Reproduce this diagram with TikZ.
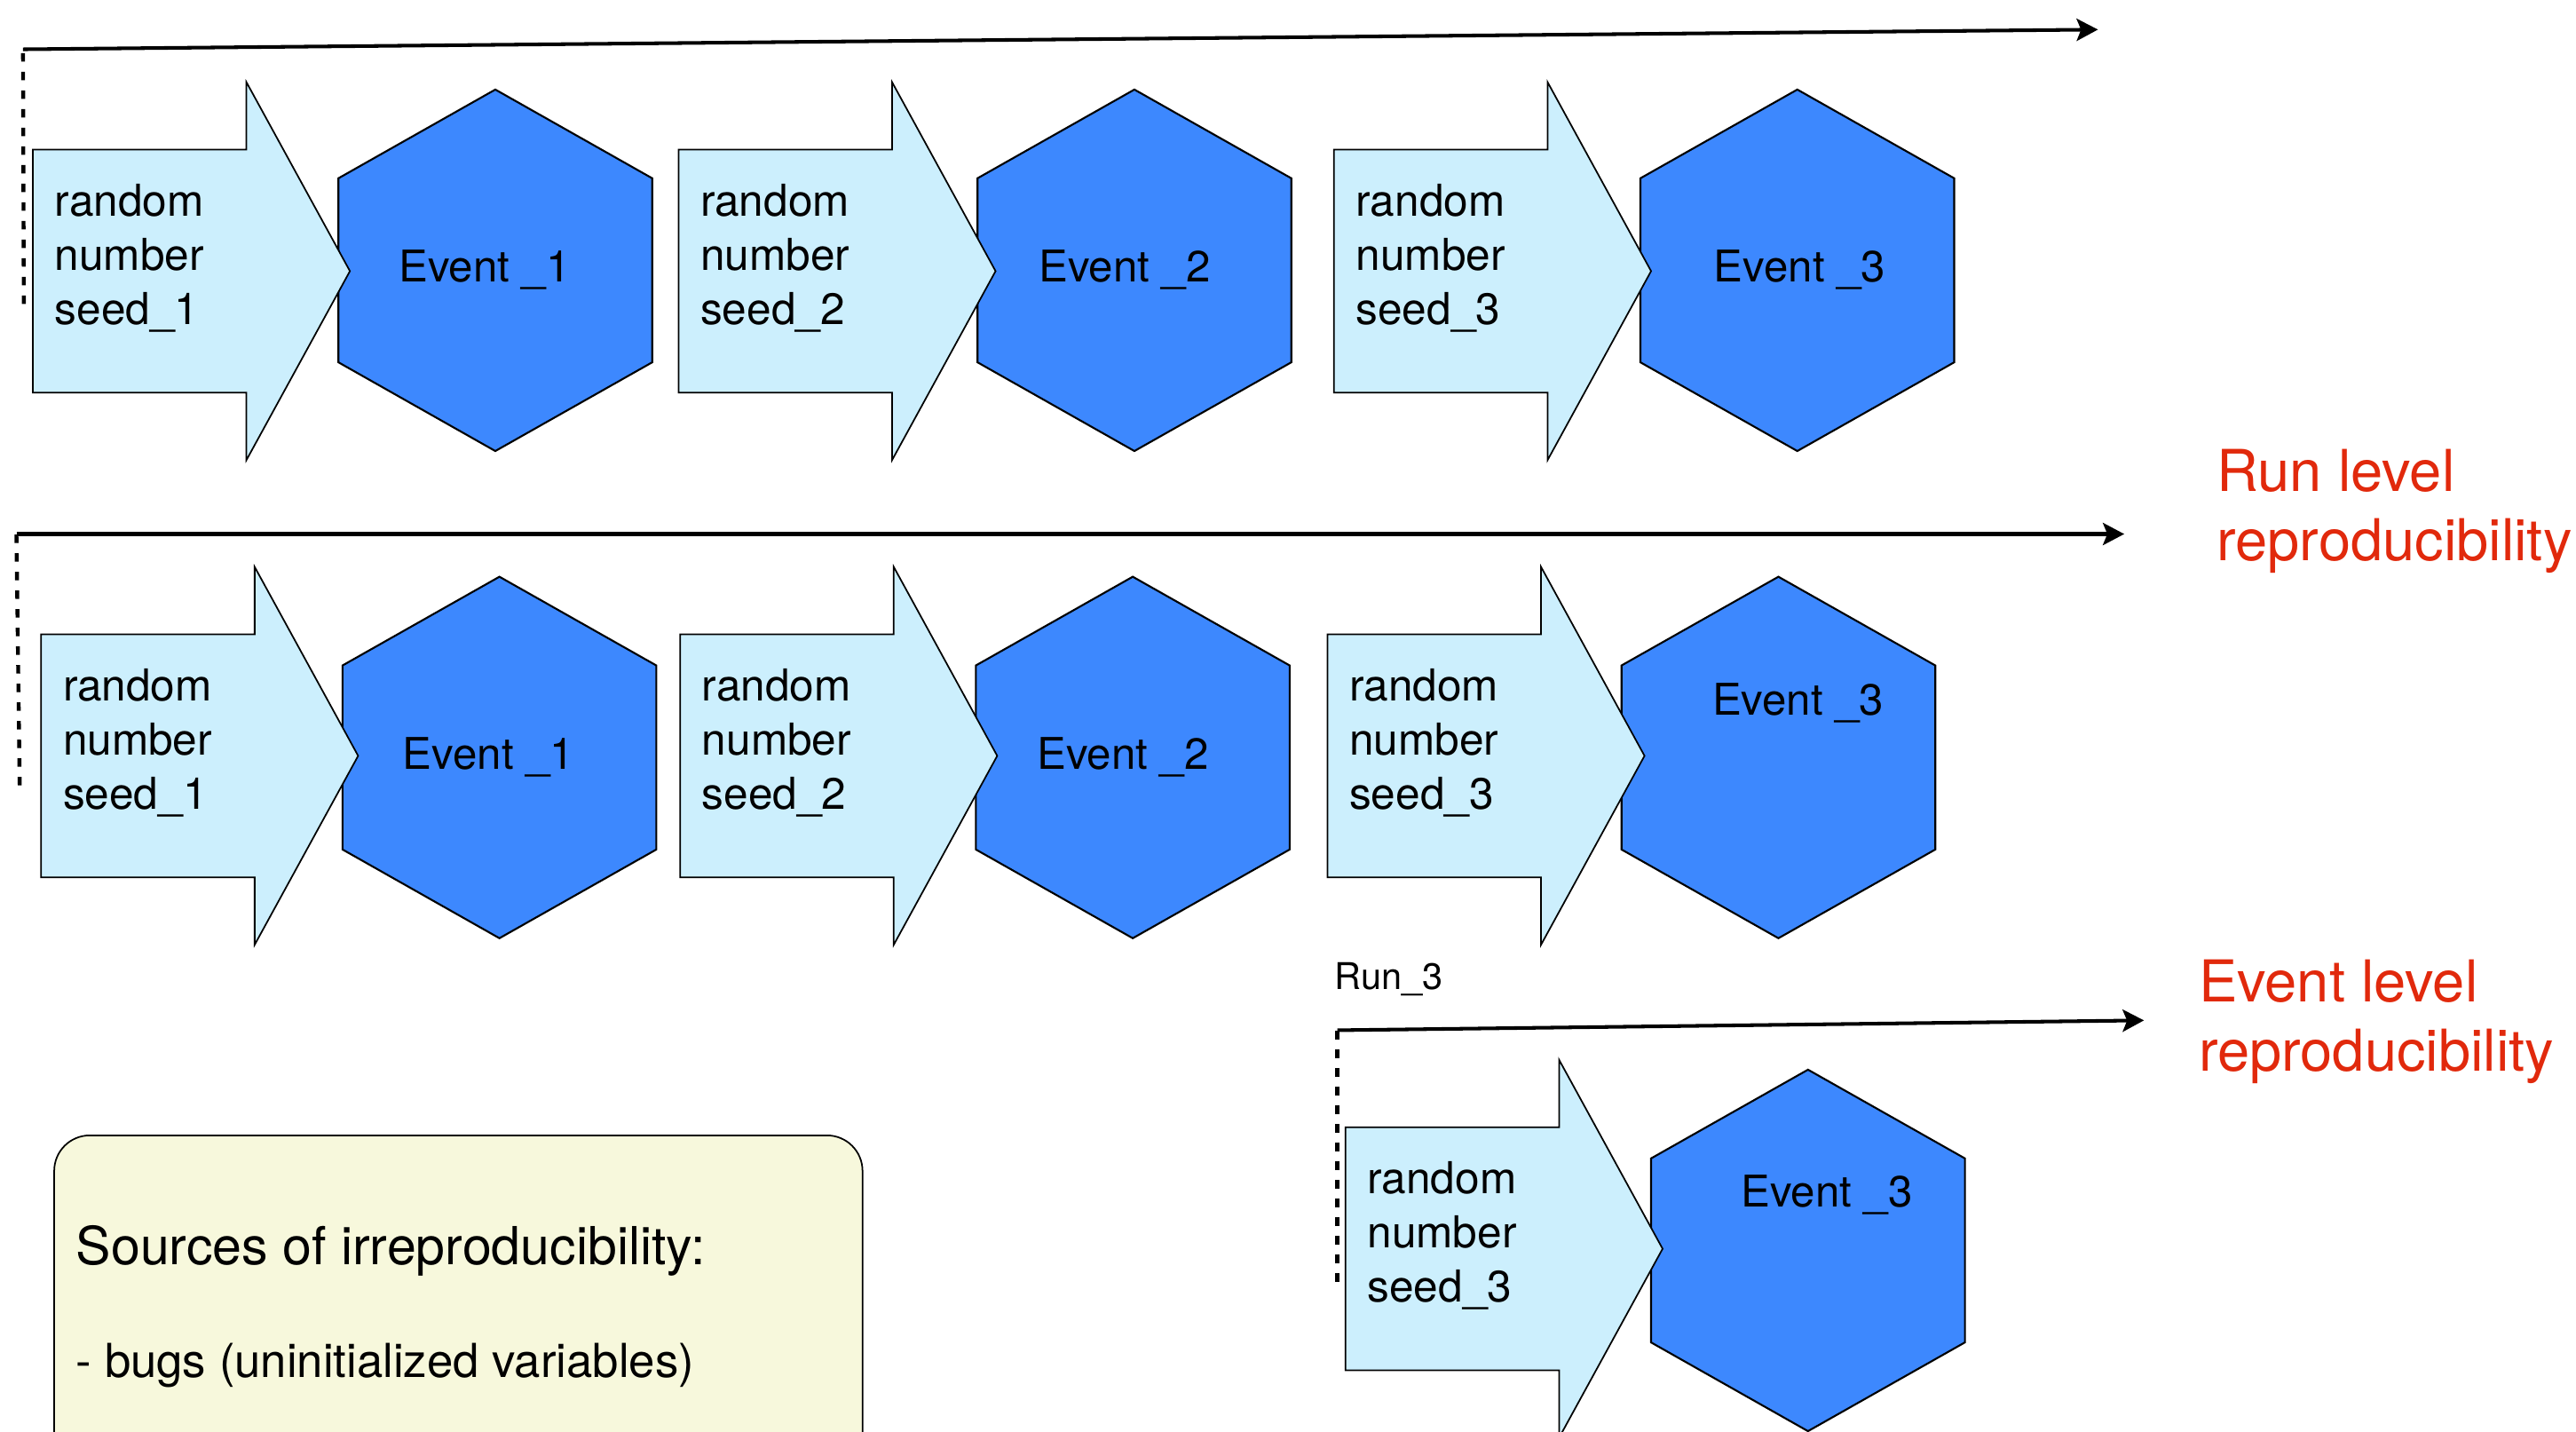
\documentclass[tikz,border=0pt]{standalone}
\usepackage{fontspec}
\setmainfont{TeX Gyre Heros}
\usetikzlibrary{arrows.meta}

\definecolor{seedfill}{HTML}{CCEFFD}
\definecolor{eventfill}{HTML}{3D88FE}
\definecolor{levelred}{HTML}{E1290C}
\definecolor{notefill}{HTML}{F7F8DC}

\tikzset{
  seedshape/.style={draw=black, line width=0.5pt, fill=seedfill, line join=miter},
  eventshape/.style={draw=black, line width=0.6pt, fill=eventfill, line join=miter},
  seedtext/.style={anchor=west, align=left, inner sep=0pt, font=\fontsize{14.1}{17.3}\selectfont},
  eventtext/.style={inner sep=0pt, font=\fontsize{14}{17}\selectfont},
  timeline/.style={line width=1.15pt, -{Stealth[length=2.4mm,width=2.5mm,inset=0.5mm]}},
  runstart/.style={line width=1.25pt, dash pattern=on 0.95mm off 1.15mm},
  leveltext/.style={anchor=west, align=left, inner sep=0pt, text=levelred, font=\fontsize{18.5}{22.1}\selectfont},
  notehead/.style={anchor=west, inner sep=0pt, font=\fontsize{16.8}{20}\selectfont},
  noteitem/.style={anchor=west, inner sep=0pt, font=\fontsize{15}{18}\selectfont},
  runlabel/.style={anchor=west, inner sep=0pt, font=\fontsize{11.8}{14}\selectfont},
}

% block arrow carrying a seed: #1 name, #2 left x, #3 centre y, #4 last line
\newcommand\seedarrow[4]{%
  \draw[seedshape] (#2,#3-74) -- (#2+130,#3-74) -- (#2+130,#3-115) -- (#2+193,#3)
    -- (#2+130,#3+115) -- (#2+130,#3+74) -- (#2,#3+74) -- cycle;
  \node[seedtext] (#1) at (#2+13,#3-8) {random\\number\\#4};
}

% event hexagon: #1 name, #2 centre x, #3 centre y, #4/#5 label position, #6 label
\newcommand\eventhex[6]{%
  \draw[eventshape] (#2,#3-110) -- (#2+95.5,#3-56) -- (#2+95.5,#3+56) -- (#2,#3+110)
    -- (#2-95.5,#3+56) -- (#2-95.5,#3-56) -- cycle;
  \node[eventtext] (#1) at (#4,#5) {#6};
}

\begin{document}
\begin{tikzpicture}[x=0.18508mm, y=-0.18508mm]
\clip (0,0) rectangle (1568,871);

% ---- first run ----
\coordinate (r1start) at (14,30);
\coordinate (r1end) at (1277,18);
\coordinate (r1dash) at (14.5,185);
\draw[runstart] (r1dash) -- (r1start);
\draw[timeline] (r1start) -- (r1end);

\eventhex{ea1}{301.5}{164.5}{295}{164}{Event \_1}
\seedarrow{sa1}{20}{165}{seed\_1}
\eventhex{ea2}{690.5}{164.5}{684.5}{164}{Event \_2}
\seedarrow{sa2}{413}{165}{seed\_2}
\eventhex{ea3}{1094}{164.5}{1095.5}{164}{Event \_3}
\seedarrow{sa3}{812}{165}{seed\_3}

% ---- second run ----
\coordinate (r2start) at (10,325);
\coordinate (r2end) at (1293,325);
\coordinate (r2dash) at (12,478);
\draw[runstart] (r2dash) -- (r2start);
\draw[timeline] (r2start) -- (r2end);

\eventhex{eb1}{304}{461}{297.5}{461}{Event \_1}
\seedarrow{sb1}{25}{460}{seed\_1}
\eventhex{eb2}{689.5}{461}{683.5}{461}{Event \_2}
\seedarrow{sb2}{414}{460}{seed\_2}
\eventhex{eb3}{1082.5}{461}{1094.5}{428}{Event \_3}
\seedarrow{sb3}{808}{460}{seed\_3}

% ---- single event rerun ----
\node[runlabel] (run3) at (812,596) {Run\_3};
\coordinate (r3start) at (814,627);
\coordinate (r3end) at (1305,621);
\coordinate (r3dash) at (814,780);
\draw[runstart] (r3dash) -- (r3start);
\draw[timeline] (r3start) -- (r3end);

\eventhex{ec3}{1100.5}{761}{1112}{727}{Event \_3}
\seedarrow{sc3}{819}{760}{seed\_3}

% ---- level labels ----
\node[leveltext] (runlevel) at (1349,311) {Run level\\reproducibility};
\node[leveltext] (eventlevel) at (1338,622) {Event level\\reproducibility};

% ---- note box ----
\draw[line width=0.5pt, fill=notefill, rounded corners=4mm] (33,691) rectangle (525,930);
\node[notehead] (sources) at (46,761) {Sources of irreproducibility:};
\node[noteitem] (bugs) at (46,831) {- bugs (uninitialized variables)};
\end{tikzpicture}
\end{document}
